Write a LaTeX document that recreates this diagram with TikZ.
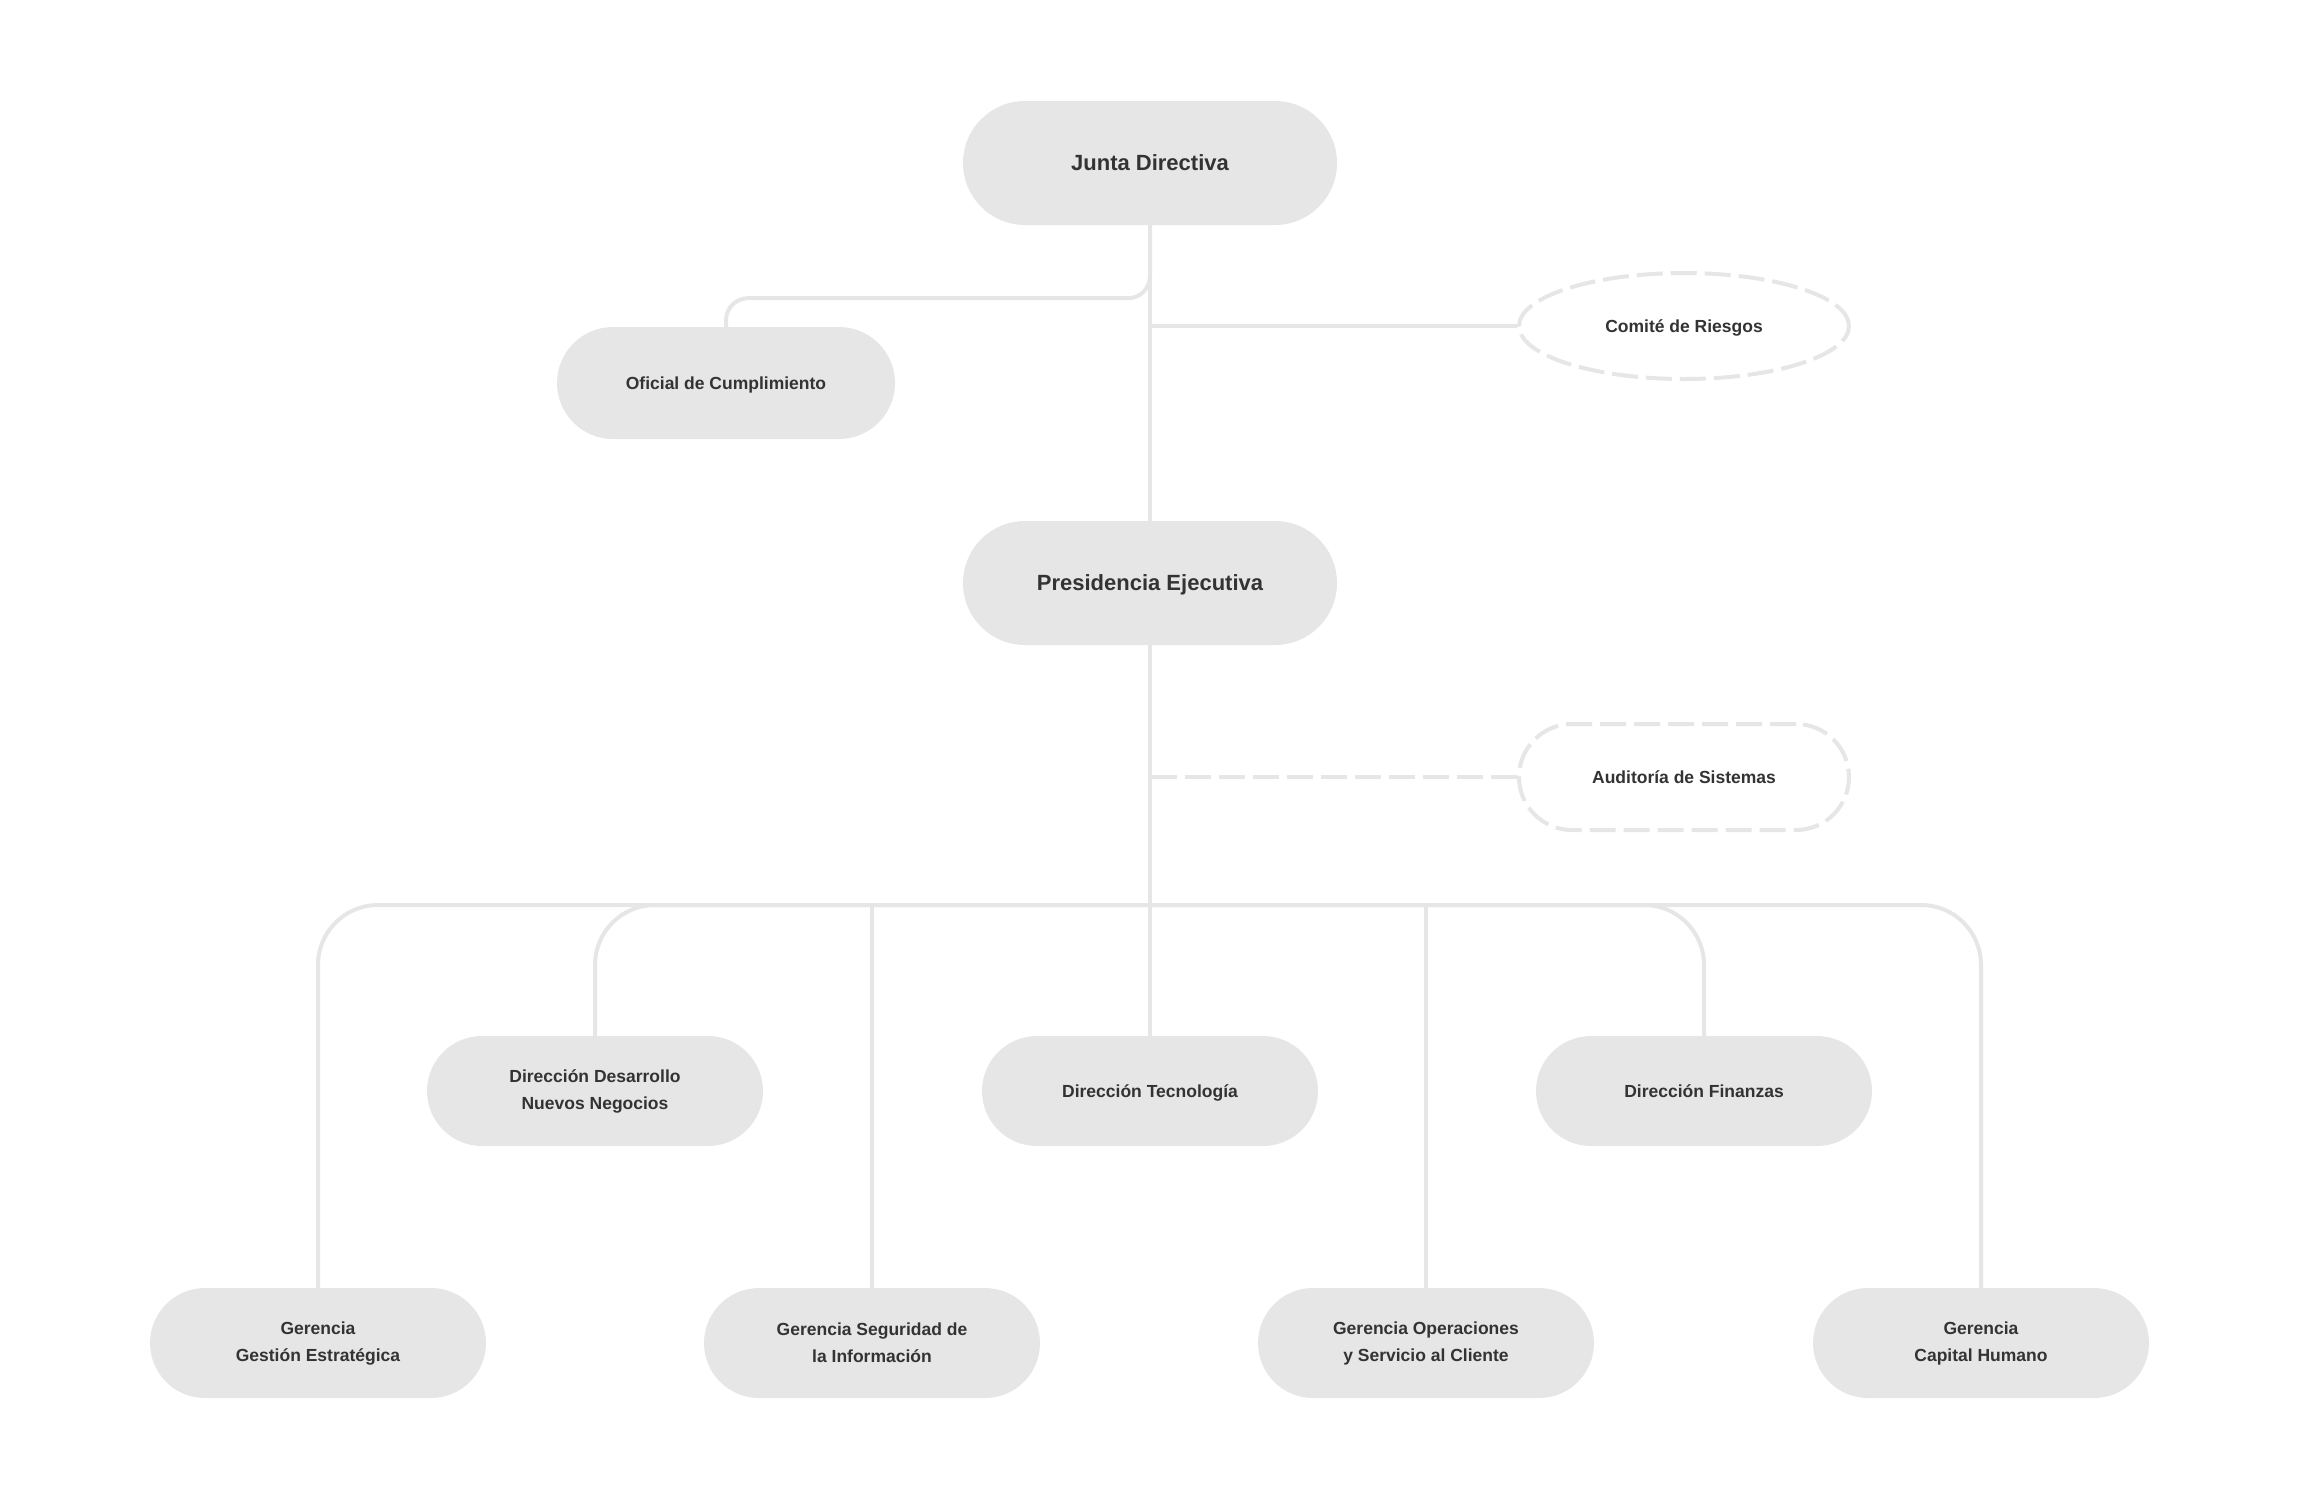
\documentclass[tikz,border=0pt]{standalone}
\usepackage{fontspec}
\setmainfont{Liberation Sans}
\usetikzlibrary{shapes.geometric}
\definecolor{linegray}{HTML}{E6E6E6}
\definecolor{boxgray}{HTML}{E6E6E6}
\definecolor{txtgray}{HTML}{333333}
\tikzset{pill/.style={fill=boxgray, rounded corners=55pt, minimum width=336pt, minimum height=110pt, inner sep=0pt, align=center, text=txtgray, font=\bfseries\fontsize{17.5}{27}\selectfont}}
\tikzset{oneline/.style={text height=12.5pt, text depth=0pt}}
\tikzset{toppill/.style={pill, rounded corners=62pt, minimum width=374pt, minimum height=124pt, text height=15.7pt, text depth=0pt, font=\bfseries\fontsize{22}{26}\selectfont}}
\tikzset{dashpill/.style={pill, oneline, fill=white, draw=linegray, line width=4pt, dash pattern=on 26pt off 8pt, minimum width=330pt, minimum height=106pt, rounded corners=53pt}}
\tikzset{dashoval/.style={dashpill, ellipse}}
\tikzset{link/.style={draw=linegray, line width=4pt}}
\tikzset{dashlink/.style={link, dash pattern=on 26pt off 8pt}}

\begin{document}
\begin{tikzpicture}[x=1pt, y=-1pt]
            \useasboundingbox (0,0) rectangle (2300,1500);
            \node[toppill] (junta) at (1150,163) {Junta Directiva};
            \node[toppill] (pres) at (1150,583) {Presidencia Ejecutiva};
            \node[pill, oneline, minimum width=338pt, minimum height=112pt, rounded corners=56pt] (ofi) at (726,383) {Oficial de Cumplimiento};
            \node[dashoval] (comite) at (1684,326) {Comité de Riesgos};
            \node[dashpill] (audit) at (1684,777) {Auditoría de Sistemas};
            \node[pill] (ddes) at (595,1091) {Dirección Desarrollo\\Nuevos Negocios};
            \node[pill, oneline] (dtec) at (1150,1091) {Dirección Tecnología};
            \node[pill, oneline] (dfin) at (1704,1091) {Dirección Finanzas};
            \node[pill] (gest) at (318,1343) {Gerencia\\Gestión Estratégica};
            \node[pill] (gseg) at (872,1343) {Gerencia Seguridad de\\la Información};
            \node[pill] (gope) at (1426,1343) {Gerencia Operaciones\\y Servicio al Cliente};
            \node[pill] (gcap) at (1981,1343) {Gerencia\\Capital Humano};
            \coordinate (bus) at (1150,905);
            \draw[link] (junta) -- (pres);
            \draw[link, rounded corners=22pt] (junta.south) -- ++(0,73) -| (ofi.north);
            \draw[link] (comite.west) -- (comite.west -| junta.south);
            \draw[dashlink] (audit.west) -- (audit.west -| pres.south);
            \draw[link] (pres) -- (bus);
            \foreach \n in {gest, ddes, dfin, gcap}
                \draw[link, rounded corners=60pt] (bus) -| (\n.north);
            \foreach \n in {gseg, dtec, gope}
                \draw[link] (\n.north |- bus) -- (\n.north);
        \end{tikzpicture}
\end{document}
